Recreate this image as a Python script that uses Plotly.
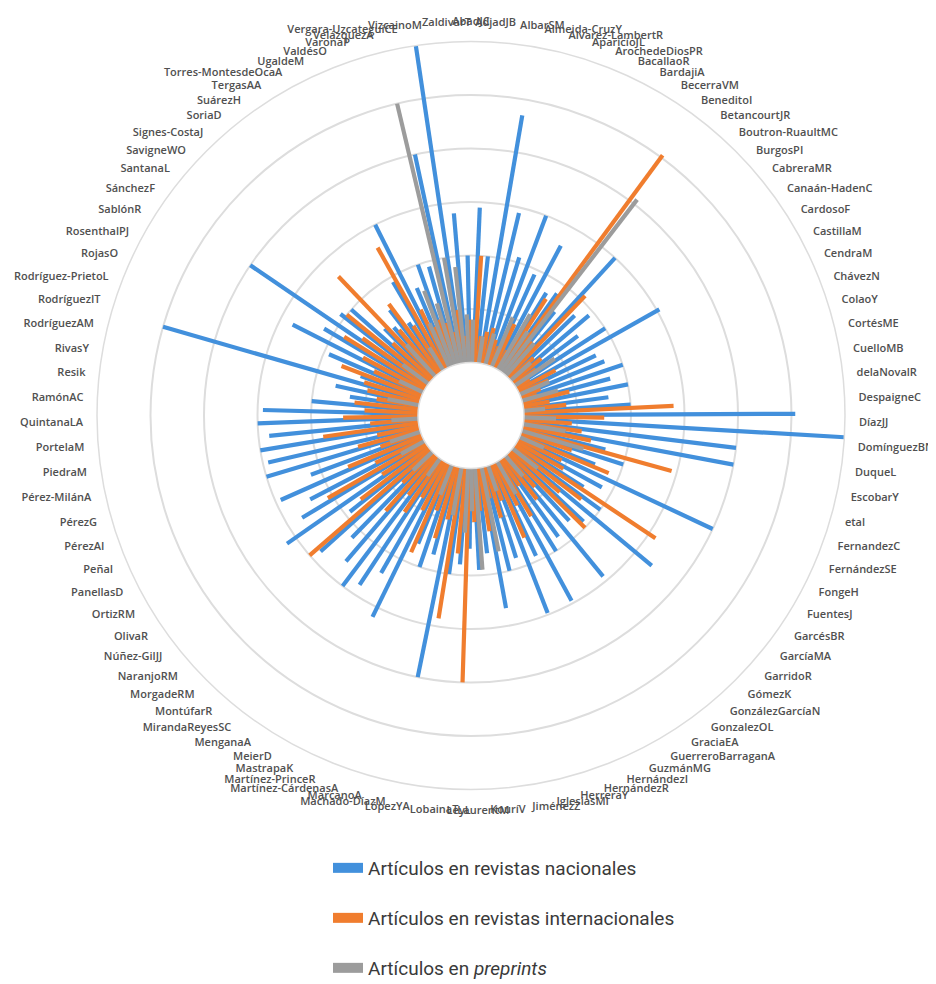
import plotly.graph_objects as go

authors = [
    "AbadJC", "AdjadJB", "AlbarSM", "Almeida-CruzY", "Alvarez-LambertR", "AparicioJL",
    "ArochedeDiosPR", "BacallaoR", "BardajiA", "BecerraVM", "BeneditoI", "BetancourtJR",
    "Boutron-RuaultMC", "BurgosPI", "CabreraMR", "Canaán-HadenC", "CardosoF", "CastillaM",
    "CendraM", "ChávezN", "ColaoY", "CortésME", "CuelloMB", "delaNovalR", "DespaigneC",
    "DíazJJ", "DomínguezBN", "DuqueL", "EscobarY", "etal", "FernandezC", "FernándezSE",
    "FongeH", "FuentesJ", "GarcésBR", "GarcíaMA", "GarridoR", "GómezK", "GonzálezGarcíaN",
    "GonzalezOL", "GraciaEA", "GuerreroBarraganA", "GuzmánMG", "HernándezI", "HernándezR",
    "HerreraY", "IglesiasMI", "JiménezZ", "KouríV", "LaurentM", "LeyL", "LobainaT",
    "LópezYA", "Machado-DíazM", "MarcanoA", "Martínez-CárdenasA", "Martínez-PrinceR",
    "MastrapaK", "MeierD", "MenganaA", "MirandaReyesSC", "MontúfarR", "MorgadeRM",
    "NaranjoRM", "Núñez-GilJJ", "OlivaR", "OrtizRM", "PanellasD", "PeñaI", "PérezAI",
    "PérezG", "Pérez-MilánA", "PiedraM", "PortelaM", "QuintanaLA", "RamónAC", "Resik",
    "RivasY", "RodríguezAM", "RodríguezIT", "Rodríguez-PrietoL", "RojasO", "RosenthalPJ",
    "SablónR", "SánchezF", "SantanaL", "SavigneWO", "Signes-CostaJ", "SoriaD", "SuárezH",
    "TergasAA", "Torres-MontesdeOcaA", "UgaldeM", "ValdésO", "VaronaP", "VelázquezA",
    "Vergara-UzcateguiCE", "VizcainoM", "ZaldivarT",
]

nacionales = [
    2.0, 2.9, 2.0, 4.7, 2.9, 2.1, 3.0, 1.9, 2.6, 1.7,
    1.8, 1.5, 3.0, 1.7, 1.9, 1.5, 2.0, 3.05, 1.6, 1.7,
    2.0, 1.7, 2.0, 1.6, 2.0, 5.07, 6.0, 4.0, 4.0, 1.6,
    2.0, 1.5, 4.0, 1.8, 1.5, 2.0, 3.4, 1.9, 1.7, 2.9,
    1.8, 2.0, 2.95, 1.9, 2.97, 1.8, 2.0, 2.67, 1.6, 1.9,
    1.5, 1.8, 2.0, 4.0, 1.7, 2.0, 1.6, 3.2, 2.4, 2.8,
    3.0, 2.6, 2.2, 2.8, 1.9, 3.2, 2.7, 2.4, 2.9, 2.2,
    3.0, 2.9, 3.0, 2.8, 3.0, 2.9, 2.0, 1.3, 1.6, 5.0,
    1.2, 1.9, 2.75, 2.2, 4.0, 2.1, 2.0, 1.3, 1.2, 1.5,
    1.1, 1.9, 3.0, 1.6, 2.0, 1.9, 4.0, 6.0, 2.8,
]

internacionales = [
    0.8, 2.0, 0.5, 0.6, 0.7, 0.5, 0.4, 0.9, 0.4, 1.6,
    5.05, 0.8, 2.1, 0.6, 0.7, 0.5, 0.3, 0.8, 0.6, 0.4,
    0.3, 0.9, 0.5, 0.8, 2.8, 1.5, 0.9, 1.1, 1.3, 2.9,
    1.0, 1.8, 0.9, 1.0, 3.15, 1.6, 1.2, 2.0, 0.8, 1.0,
    0.6, 1.2, 0.9, 1.5, 0.7, 1.0, 0.6, 1.2, 0.8, 1.0,
    4.0, 1.6, 2.85, 1.0, 1.4, 0.9, 1.8, 1.0, 0.8, 1.2,
    0.9, 1.4, 0.8, 3.0, 1.6, 1.0, 2.1, 1.0, 1.5, 0.8,
    1.2, 0.8, 1.8, 0.9, 1.4, 1.0, 1.2, 0.8, 1.0, 1.1,
    1.6, 1.0, 1.3, 1.8, 1.5, 2.0, 1.0, 2.6, 1.1, 1.6,
    1.0, 2.6, 1.2, 0.8, 0.9, 0.8, 0.6, 1.0, 0.5,
]

preprints = [
    0.8, 0, 0.5, 0, 0.6, 0, 1.0, 0, 1.2, 0.9,
    4.1, 0.8, 0, 0.5, 0, 0.9, 0, 0, 0.6, 0,
    0.7, 0, 0, 0.4, 0, 0.6, 0, 0.8, 0, 1.2,
    0, 0.5, 0, 0, 0, 0.6, 0, 0, 0.5, 0,
    0, 0.7, 0, 0, 0.5, 0, 1.6, 0, 1.9, 0.8,
    1.2, 0, 0.9, 0, 0, 0.6, 0, 0, 0, 0.4,
    0, 0, 0.5, 0, 0, 0, 0.5, 0, 0, 0.6,
    0, 0, 0, 0.5, 0, 0, 0, 0.6, 0, 0,
    0, 0.5, 0, 0, 0.6, 0, 0, 0.8, 0, 0,
    0.5, 0, 0.9, 1.5, 1.2, 5.0, 2.0, 1.8, 0.9,
]

series = [
    ("Artículos en revistas nacionales", nacionales, "#4290DC", -1),
    ("Artículos en revistas internacionales", internacionales, "#F07D2E", 0),
    ("Artículos en <i>preprints</i>", preprints, "#9C9C9C", 1),
]

n = len(authors)
step = 360.0 / n
angles = [i * step for i in range(n)]
sub = step / 3.0

fig = go.Figure()
legends = ["legend", "legend2", "legend3"]
for k, (name, vals, color, off) in enumerate(series):
    rr, tt = [], []
    for a, v in zip(angles, vals):
        if v > 0:
            rr += [0, v, None]
            tt += [a + off * sub, a + off * sub, None]
    fig.add_trace(go.Scatterpolar(
        r=rr, theta=tt, mode="lines", line=dict(color=color, width=4.2),
        showlegend=False, hoverinfo="skip", connectgaps=False,
    ))
for k, (name, vals, color, off) in enumerate(series):
    fig.add_trace(go.Scatterpolar(
        r=[None], theta=[None], mode="lines", name=name,
        line=dict(color=color, width=14), legend=legends[k], showlegend=True,
    ))

# the page adds an 8px body margin, so the figure is drawn 8px smaller than the window
W, H = 928, 976
cx, cy, R = 463, 407.5, 374
fig.update_layout(
    width=W, height=H, autosize=False,
    margin=dict(l=0, r=0, t=0, b=0, autoexpand=False),
    paper_bgcolor="white",
    font=dict(family="Open Sans", color="#555555"),
    polar=dict(
        domain=dict(x=[(cx - R) / W, (cx + R) / W], y=[1 - (cy + R) / H, 1 - (cy - R) / H]),
        bgcolor="white",
        hole=53 / 374,
        radialaxis=dict(range=[0, 6], tickvals=[1, 2, 3, 4, 5], showticklabels=False,
                        ticks="", showline=False, gridcolor="#dddddd", gridwidth=1.5),
        angularaxis=dict(type="linear", thetaunit="degrees", rotation=90, direction="clockwise",
                         tickvals=angles, ticktext=authors, showgrid=False,
                         showline=True, linecolor="#dddddd", linewidth=1.5,
                         ticks="outside", ticklen=11, tickcolor="rgba(0,0,0,0)",
                         tickfont=dict(family="Open Sans", size=11, color="#505050", weight=600)),
    ),
)
lx = 320 / W
for k, yc in enumerate([860, 910, 960]):
    key = legends[k]
    fig.update_layout({key: dict(x=lx, y=1 - yc / H, xanchor="left", yanchor="middle",
                                 bgcolor="rgba(0,0,0,0)",
                                 font=dict(family="Roboto", size=19, color="#3a3a3a"))})

fig.write_html("out.html")
